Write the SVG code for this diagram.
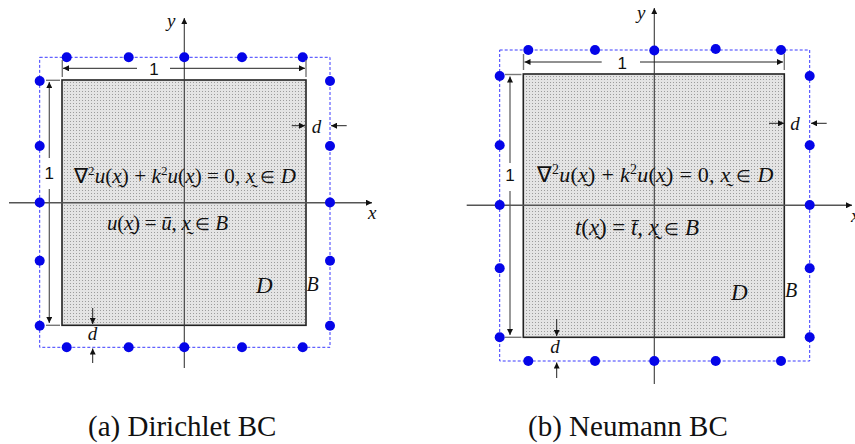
<svg xmlns="http://www.w3.org/2000/svg" width="855" height="444" viewBox="0 0 855 444">
<style>
.bg{fill:#ffffff}
.dom{fill:url(#stip);stroke:#222;stroke-width:1.6}
.bnd{fill:none;stroke:#3a3aff;stroke-width:1;stroke-dasharray:3 2}
.pt{fill:#0505e8}
.axis{stroke:#3a3a3a;stroke-width:1.1;fill:none}
.xaxis{stroke:#555;stroke-width:1.4;fill:none}
.dim{stroke:#222;stroke-width:1;fill:none}
.ext{stroke:#777;stroke-width:1.4;fill:none}
.dimg{stroke:#555;stroke-width:1.2;fill:none}
.serif{font-family:"Liberation Serif","Times New Roman",serif;fill:#111}
.it{font-style:italic}
.el{font-size:17px}
.sans{font-family:"Liberation Sans",Arial,sans-serif;font-size:17px;fill:#111}
.cap{font-family:"Liberation Serif","Times New Roman",serif;font-size:29px;fill:#111}
</style>
<defs>
<pattern id="stip" width="3" height="3" patternUnits="userSpaceOnUse">
<rect width="3" height="3" fill="#e4e4e4"/>
<rect x="1" y="1" width="1" height="1" fill="#9c9c9c"/>
</pattern>
<marker id="ah" viewBox="0 0 10 10" refX="10" refY="5" markerWidth="7" markerHeight="6" markerUnits="userSpaceOnUse" orient="auto">
<path d="M0,0 L10,5 L0,10 z" fill="#111"/>
</marker>
</defs>
<rect class="bg" width="855" height="444"/>

<g id="panel-a">
<rect id="a-domain" class="dom" x="62" y="80" width="244" height="245.3"/>
<g id="a-axes">
<line class="axis" x1="184.3" y1="368" x2="184.3" y2="18" marker-end="url(#ah)"/>
<line class="xaxis" x1="9" y1="202.7" x2="372" y2="202.7" marker-end="url(#ah)"/>
<text class="serif it" x="167" y="27" font-size="19">y</text>
<text class="serif it" x="368" y="219" font-size="19">x</text>
</g>
<rect id="a-boundary" class="bnd" x="39.7" y="57.3" width="290.3" height="290"/>
<g id="a-points">
<circle class="pt" cx="66.7" cy="57.3" r="5"/><circle class="pt" cx="128.7" cy="57.3" r="5"/><circle class="pt" cx="184.3" cy="57.3" r="5"/><circle class="pt" cx="242" cy="57.3" r="5"/><circle class="pt" cx="302.7" cy="57.3" r="5"/>
<circle class="pt" cx="39.7" cy="81" r="5"/><circle class="pt" cx="39.7" cy="146" r="5"/><circle class="pt" cx="39.7" cy="202.5" r="5"/><circle class="pt" cx="39.7" cy="260.7" r="5"/><circle class="pt" cx="39.7" cy="325.7" r="5"/>
<circle class="pt" cx="330" cy="81" r="5"/><circle class="pt" cx="330" cy="146" r="5"/><circle class="pt" cx="330" cy="202.5" r="5"/><circle class="pt" cx="330" cy="260.7" r="5"/><circle class="pt" cx="330" cy="325.7" r="5"/>
<circle class="pt" cx="66.7" cy="347.3" r="5"/><circle class="pt" cx="128.7" cy="347.3" r="5"/><circle class="pt" cx="184.3" cy="347.3" r="5"/><circle class="pt" cx="242" cy="347.3" r="5"/><circle class="pt" cx="302.7" cy="347.3" r="5"/>
</g>
<g id="a-dims">
<line class="ext" x1="62.3" y1="60" x2="62.3" y2="77"/>
<line class="ext" x1="306" y1="60" x2="306" y2="77"/>
<line class="dim" x1="137" y1="68.3" x2="63" y2="68.3" marker-end="url(#ah)"/>
<line class="dim" x1="170" y1="68.3" x2="305" y2="68.3" marker-end="url(#ah)"/>
<text class="sans" x="154" y="75" text-anchor="middle">1</text>
<line class="ext" x1="46" y1="80.3" x2="60" y2="80.3"/>
<line class="ext" x1="46" y1="325.3" x2="60" y2="325.3"/>
<line class="dimg" x1="49.3" y1="158" x2="49.3" y2="82" marker-end="url(#ah)"/>
<line class="dimg" x1="49.3" y1="189" x2="49.3" y2="323" marker-end="url(#ah)"/>
<text class="sans" x="49.3" y="179" text-anchor="middle">1</text>
<line class="dim" x1="291.7" y1="125.7" x2="305" y2="125.7" marker-end="url(#ah)"/>
<line class="dim" x1="346.7" y1="125.7" x2="331" y2="125.7" marker-end="url(#ah)"/>
<text class="serif it" x="316.5" y="133" font-size="19" text-anchor="middle">d</text>
<line class="dim" x1="92.7" y1="308" x2="92.7" y2="324" marker-end="url(#ah)"/>
<line class="dim" x1="92.7" y1="363" x2="92.7" y2="348.5" marker-end="url(#ah)"/>
<text class="serif it" x="92.5" y="340" font-size="19" text-anchor="middle">d</text>
</g>
<g id="a-labels">
<text class="serif" x="74" y="183" font-size="21" textLength="222">∇<tspan dy="-8" font-size="13">2</tspan><tspan dy="8" class="it">u</tspan>(<tspan class="it">x̰</tspan>) + <tspan class="it">k</tspan><tspan dy="-8" font-size="13">2</tspan><tspan dy="8" class="it">u</tspan>(<tspan class="it">x̰</tspan>) = 0, <tspan class="it">x̰</tspan> <tspan class="el">∈</tspan> <tspan class="it">D</tspan></text>
<text class="serif" x="107" y="230" font-size="21" textLength="121"><tspan class="it">u</tspan>(<tspan class="it">x̰</tspan>) = <tspan class="it">ū</tspan>, <tspan class="it">x̰</tspan> <tspan class="el">∈</tspan> <tspan class="it">B</tspan></text>
<text class="serif it" x="256" y="293" font-size="23">D</text>
<text class="serif it" x="306.5" y="291" font-size="20">B</text>
</g>
</g>

<g id="panel-b">
<rect id="b-domain" class="dom" x="523.3" y="74" width="261" height="263.3"/>
<g id="b-axes">
<line class="axis" x1="654.3" y1="384" x2="654.3" y2="8" marker-end="url(#ah)"/>
<line class="xaxis" x1="466.7" y1="205.3" x2="852" y2="205.3" marker-end="url(#ah)"/>
<text class="serif it" x="637" y="19" font-size="19">y</text>
<text class="serif it" x="851" y="222" font-size="19">x</text>
</g>
<rect id="b-boundary" class="bnd" x="499.7" y="50" width="310" height="311"/>
<g id="b-points">
<circle class="pt" cx="528.3" cy="50" r="5"/><circle class="pt" cx="595" cy="50" r="5"/><circle class="pt" cx="654.3" cy="50.5" r="5"/><circle class="pt" cx="715.7" cy="49" r="5"/><circle class="pt" cx="781" cy="50" r="5"/>
<circle class="pt" cx="499.7" cy="76" r="5"/><circle class="pt" cx="499.7" cy="145.3" r="5"/><circle class="pt" cx="499.7" cy="205" r="5"/><circle class="pt" cx="499.7" cy="268.3" r="5"/><circle class="pt" cx="499.7" cy="337.3" r="5"/>
<circle class="pt" cx="809.7" cy="76" r="5"/><circle class="pt" cx="809.7" cy="145.3" r="5"/><circle class="pt" cx="809.7" cy="205" r="5"/><circle class="pt" cx="809.7" cy="268.3" r="5"/><circle class="pt" cx="809.7" cy="337.3" r="5"/>
<circle class="pt" cx="528.3" cy="361" r="5"/><circle class="pt" cx="595" cy="361" r="5"/><circle class="pt" cx="654.3" cy="361" r="5"/><circle class="pt" cx="715.7" cy="361" r="5"/><circle class="pt" cx="781" cy="361" r="5"/>
</g>
<g id="b-dims">
<line class="ext" x1="523.5" y1="54" x2="523.5" y2="70"/>
<line class="ext" x1="784.3" y1="54" x2="784.3" y2="70"/>
<line class="dim" x1="601.7" y1="62" x2="524.5" y2="62" marker-end="url(#ah)"/>
<line class="dim" x1="640" y1="62" x2="783" y2="62" marker-end="url(#ah)"/>
<text class="sans" x="622.3" y="68.5" text-anchor="middle">1</text>
<line class="ext" x1="505" y1="74.5" x2="521.5" y2="74.5"/>
<line class="ext" x1="505" y1="337.3" x2="521.5" y2="337.3"/>
<line class="dimg" x1="510" y1="163" x2="510" y2="76.5" marker-end="url(#ah)"/>
<line class="dimg" x1="510" y1="191" x2="510" y2="335" marker-end="url(#ah)"/>
<text class="sans" x="510" y="181" text-anchor="middle">1</text>
<line class="dim" x1="769" y1="123.3" x2="784" y2="123.3" marker-end="url(#ah)"/>
<line class="dim" x1="826.7" y1="123.3" x2="811" y2="123.3" marker-end="url(#ah)"/>
<text class="serif it" x="795" y="130" font-size="19" text-anchor="middle">d</text>
<line class="dim" x1="556.7" y1="319" x2="556.7" y2="336" marker-end="url(#ah)"/>
<line class="dim" x1="556.7" y1="378" x2="556.7" y2="362.5" marker-end="url(#ah)"/>
<text class="serif it" x="555" y="353" font-size="19" text-anchor="middle">d</text>
</g>
<g id="b-labels">
<text class="serif" x="536.7" y="182" font-size="22" textLength="236.6">∇<tspan dy="-8" font-size="14">2</tspan><tspan dy="8" class="it">u</tspan>(<tspan class="it">x̰</tspan>) + <tspan class="it">k</tspan><tspan dy="-8" font-size="14">2</tspan><tspan dy="8" class="it">u</tspan>(<tspan class="it">x̰</tspan>) = 0, <tspan class="it">x̰</tspan> <tspan class="el">∈</tspan> <tspan class="it">D</tspan></text>
<text class="serif" x="575" y="235" font-size="23" textLength="124"><tspan class="it">t</tspan>(<tspan class="it">x̰</tspan>) = <tspan class="it">t̄</tspan>, <tspan class="it">x̰</tspan> <tspan class="el">∈</tspan> <tspan class="it">B</tspan></text>
<text class="serif it" x="731" y="300" font-size="23">D</text>
<text class="serif it" x="785" y="297" font-size="20">B</text>
</g>
</g>

<g id="captions">
<text class="cap" x="88" y="436">(a) Dirichlet BC</text>
<text class="cap" x="528" y="436">(b) Neumann BC</text>
</g>
</svg>
